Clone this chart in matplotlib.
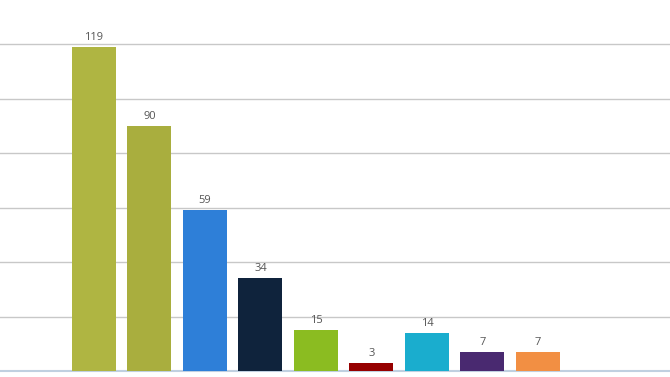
import matplotlib

matplotlib.use("Agg")
import matplotlib.pyplot as plt

# bar values, left to right
categories = ["A", "B", "C", "D", "E", "F", "G", "H", "I"]
values = [119, 90, 59, 34, 15, 3, 14, 7, 7]
colors = ["#afb542", "#a9ae3e", "#2e7fd8", "#0f233c", "#8bbc21",
          "#960000", "#1aadce", "#492970", "#f28f43"]
grid_ticks = [0, 20, 40, 60, 80, 100, 120]

fig = plt.figure(figsize=(6.7, 3.77), dpi=100)
ax = fig.add_axes([0, 0, 1, 1])

xs = list(range(len(values)))
bars = ax.bar(xs, values, width=0.793, color=colors, zorder=3)

for x, v in zip(xs, values):
    ax.annotate(str(v), (x, v), xytext=(0, 3), textcoords="offset points",
                ha="center", va="bottom", fontsize=8, color="#555555",
                family="Open Sans", zorder=4)

ax.set_xlim(-1.694, 10.38)
ax.set_ylim(-2.2, 136.2)
for t in grid_ticks[1:]:
    ax.axhline(t, color="#c8c8c8", linewidth=1, zorder=1)
ax.axhline(0, color="#c0d0e0", linewidth=1.5, zorder=2)

for s in ax.spines.values():
    s.set_visible(False)
ax.set_xticks([])
ax.set_yticks([])

fig.savefig("out.png", dpi=100)
